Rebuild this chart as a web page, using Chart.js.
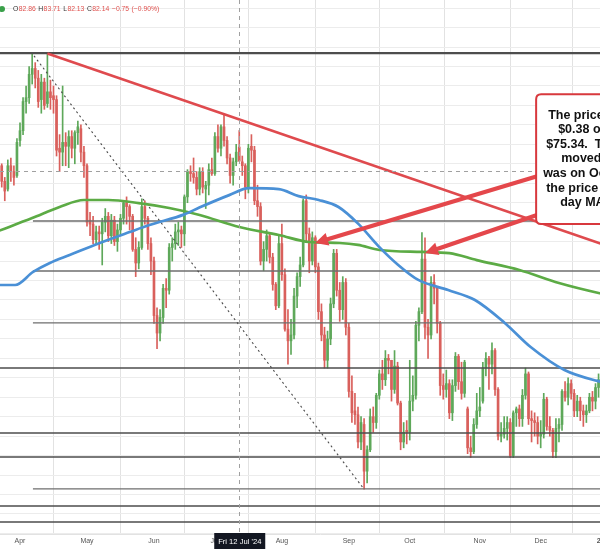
<!DOCTYPE html>
<html><head><meta charset="utf-8">
<script src="https://cdn.jsdelivr.net/npm/chart.js@4.4.1/dist/chart.umd.min.js"></script>
<style>
html,body{margin:0;padding:0;background:#fff;overflow:hidden;}
#wrap{position:relative;width:600px;height:549px;overflow:hidden;background:#fff;}
#c{position:absolute;left:0;top:0;}
</style></head><body>
<div id="wrap"><canvas id="c" width="700" height="549"></canvas></div>
<script>
// ---------- categories (trading sessions) ----------
const sessionMonths = ['2024-03','2024-04','2024-05','2024-06','2024-07','2024-08','2024-09','2024-10','2024-11','2024-12','2025-01'];
const sessionDays = [
  [21,22,25,26,27,28],
  [1,2,3,4,5,8,9,10,11,12,15,16,17,18,19,22,23,24,25,26,29,30],
  [1,2,3,6,7,8,9,10,13,14,15,16,17,20,21,22,23,24,28,29,30,31],
  [3,4,5,6,7,10,11,12,13,14,17,18,19,20,21,24,25,26,27,28],
  [1,2,3,5,8,9,10,11,12,15,16,17,18,19,22,23,24,25,26,29,30,31],
  [1,2,5,6,7,8,9,12,13,14,15,16,19,20,21,22,23,26,27,28,29,30],
  [3,4,5,6,9,10,11,12,13,16,17,18,19,20,23,24,25,26,27,30],
  [1,2,3,4,7,8,9,10,11,14,15,16,17,18,21,22,23,24,25,28,29,30,31],
  [1,4,5,6,7,8,11,12,13,14,15,18,19,20,21,22,25,26,27,29],
  [2,3,4,5,6,9,10,11,12,13,16,17,18,19,20,23,24,26,27,30,31],
  [2]
];
const tickLabels = ['Apr','May','Jun','Jul','Aug','Sep','Oct','Nov','Dec','2025'];
const priceGrid = [63,64,65,66,67,68,69,70,71,72,73,74,75,76,77,78,79,80,81,82,83,84,85,86,87,88,89,90];

// ---------- daily OHLC ----------
const opens = [
 81.9,81.1,80.7,81.9,81.6,81.4,
 83.2,83.7,85.2,85.4,86.6,86.9,86.4,85.3,86.2,85.1,85.7,85.5,85.3,82.8,82.6,83.1,82.9,83.4,82.8,83.6,83.8,82.6,
 81.9,79.1,78.9,78.1,78.5,78.4,79.0,79.3,78.3,79.1,78.0,78.6,79.2,80.0,79.8,79.3,77.6,76.9,77.7,79.8,79.2,77.9,
 77.0,74.2,73.3,74.1,75.6,75.5,77.7,77.9,78.5,78.6,78.4,80.3,81.6,81.5,81.3,80.7,81.6,80.7,80.9,81.7,
 81.5,83.4,82.8,83.9,83.2,82.3,81.4,82.1,82.86,82.1,81.9,80.8,82.9,82.7,80.1,79.8,77.0,77.6,78.3,77.2,75.8,74.7,
 77.9,76.3,73.5,72.9,73.2,75.2,76.2,76.8,80.1,78.4,77.0,78.2,76.7,74.4,73.2,71.9,73.0,74.8,77.4,75.5,74.5,75.9,
 73.6,70.3,69.3,69.1,67.7,68.6,66.2,67.3,69.0,68.7,70.1,71.2,70.9,72.0,71.9,70.4,71.6,69.7,67.7,68.3,
 68.2,69.8,70.1,73.7,74.4,77.1,73.6,73.2,75.9,75.6,73.8,70.6,70.4,70.7,69.2,70.6,72.1,70.8,70.2,69.4,67.4,67.2,68.6,
 69.3,69.8,71.5,72.0,71.7,72.4,70.4,68.0,68.1,68.4,68.7,67.0,69.2,69.4,68.9,70.1,71.2,68.9,68.8,68.7,
 68.0,68.1,69.9,68.5,68.3,67.2,68.4,68.6,70.3,70.0,70.7,70.2,69.3,69.8,69.3,69.1,69.3,70.0,69.8,70.5,70.9
];
const highs = [
 82.0,81.3,82.2,82.3,81.9,83.3,
 84.1,85.4,86.0,87.0,87.67,87.2,86.8,86.6,86.4,87.67,86.3,86.0,85.5,83.5,86.0,83.6,83.7,83.7,83.7,84.2,84.0,82.9,
 82.0,79.5,79.3,78.8,78.8,79.2,79.7,79.5,79.4,79.3,78.9,79.4,80.1,80.3,79.9,79.4,78.2,78.0,80.2,80.1,79.3,78.2,
 77.2,74.6,74.5,75.8,76.1,77.9,78.2,78.9,79.0,78.8,80.4,81.7,81.9,82.3,81.6,81.8,81.8,81.1,82.0,82.3,
 83.6,84.0,84.0,84.5,83.4,82.5,82.3,83.0,83.71,82.4,82.0,83.0,83.5,82.9,80.9,80.0,78.0,78.6,78.4,77.4,75.9,78.3,
 78.9,76.6,74.5,74.0,75.6,76.4,77.2,80.2,80.4,78.7,78.5,78.3,76.9,74.8,73.6,73.4,75.1,77.6,77.6,75.9,76.2,76.1,
 73.8,71.1,70.2,69.5,69.0,68.9,67.5,69.4,69.5,70.2,71.4,71.9,72.4,72.2,71.9,72.4,71.8,69.8,68.7,68.8,
 71.9,71.1,73.9,74.6,78.46,78.2,74.0,76.2,76.3,75.7,73.9,71.2,71.4,70.9,70.9,72.3,72.2,71.8,71.9,69.5,68.0,68.9,70.2,
 70.5,71.8,72.3,72.1,72.8,72.5,70.5,68.7,69.0,69.0,68.9,69.3,69.5,69.6,70.4,71.5,71.3,69.3,69.2,69.0,
 68.8,70.2,70.0,69.0,68.4,68.9,68.9,70.4,70.8,71.0,70.9,70.4,70.1,70.0,69.6,69.6,70.2,70.3,70.7,71.2,71.9
];
const lows = [
 80.8,80.1,80.6,81.1,80.9,81.3,
 82.9,83.5,84.6,85.1,86.1,85.9,84.9,84.6,84.8,84.9,84.8,84.6,82.4,81.6,81.9,81.9,81.8,82.3,82.0,83.0,82.1,81.3,
 78.8,78.3,77.9,77.9,77.6,76.8,78.5,78.0,77.9,77.8,77.5,78.3,78.9,78.9,78.6,77.5,76.2,76.6,77.6,78.9,77.6,76.3,
 73.8,72.5,72.9,73.8,74.6,75.3,77.0,77.6,77.8,77.7,77.8,80.0,81.1,81.0,80.4,80.4,80.5,79.7,80.4,81.4,
 81.4,82.6,82.4,82.9,82.0,81.0,80.9,81.9,82.13,81.4,80.2,80.5,82.1,79.9,79.3,76.8,76.5,77.0,76.9,75.5,74.5,74.6,
 76.0,73.4,71.7,72.2,73.0,74.6,75.7,76.7,78.0,76.4,76.8,76.4,74.0,72.9,71.5,71.5,72.7,74.6,75.2,73.9,74.0,73.2,
 70.0,68.7,68.6,67.4,67.3,65.27,65.6,67.2,68.2,68.4,69.9,70.4,70.6,71.2,69.8,70.2,69.6,67.3,67.4,67.6,
 67.8,69.3,69.9,72.9,74.3,73.0,72.0,73.0,74.8,73.3,70.1,69.9,70.0,68.9,68.8,70.3,70.4,69.9,70.0,67.1,66.9,67.1,68.4,
 69.0,69.7,71.1,70.4,71.2,70.1,67.8,67.7,67.9,67.8,66.9,66.9,68.5,68.5,68.5,69.9,68.6,67.7,68.0,67.6,
 67.4,67.9,68.3,68.0,66.9,66.9,67.7,68.3,69.8,69.6,69.9,69.0,69.0,68.8,68.5,68.7,69.2,69.3,69.4,70.0,70.6
];
const closes = [
 81.1,80.6,81.9,81.6,81.3,83.1,
 83.7,85.2,85.4,86.6,86.9,86.4,85.2,86.2,85.0,85.7,85.4,85.3,82.7,82.6,83.1,82.9,83.4,82.8,83.6,83.9,82.6,81.9,
 79.0,78.9,78.1,78.5,78.4,79.0,79.3,78.3,79.1,78.0,78.6,79.2,80.0,79.8,79.3,77.6,76.9,77.7,79.8,79.2,77.9,77.0,
 74.2,73.3,74.1,75.6,75.5,77.7,77.9,78.5,78.6,78.4,80.3,81.6,81.5,81.3,80.7,81.6,80.8,80.9,81.7,81.5,
 83.4,82.8,83.9,83.2,82.3,81.4,82.1,82.6,82.14,81.9,80.8,82.8,82.7,80.1,79.8,77.0,77.6,78.3,77.2,75.8,74.7,77.9,
 76.3,73.5,72.9,73.2,75.2,76.2,76.8,80.1,78.4,77.0,78.2,76.7,74.4,73.2,71.9,73.0,74.8,77.4,75.5,74.5,75.9,73.6,
 70.3,69.2,69.1,67.7,68.7,66.2,67.3,69.0,68.7,70.1,71.2,70.9,72.0,71.9,70.4,71.6,69.7,67.7,68.2,68.2,
 69.8,70.1,73.7,74.4,77.1,73.6,73.2,75.9,75.6,73.8,70.6,70.4,70.7,69.2,70.6,72.1,70.8,70.2,71.8,67.4,67.2,68.6,69.3,
 69.5,71.5,72.0,71.7,72.4,70.4,68.0,68.1,68.4,68.7,67.0,69.2,69.4,68.9,70.1,71.2,68.9,68.8,68.7,68.0,
 68.1,69.9,68.5,68.3,67.2,68.4,68.6,70.3,70.0,70.7,70.2,69.3,69.8,69.3,69.1,69.3,70.0,69.8,70.5,70.9,71.6
];

// ---------- moving averages ----------
const ma100Idx = [-1,4.4,10.3,15.8,22.3,32.2,42,48.5,60,64.9,74.7,81.2,91,97.5,104.1,110.6,117.2,123.7,130.2,136.8,146.6,155.4,165.2,173.7,184.8,195.6,200];
const ma100Val = [75.77,75.77,76.44,76.90,77.31,77.93,78.49,78.85,79.40,79.75,80.39,80.75,80.70,80.34,80.14,79.78,78.90,77.77,76.80,76.03,75.51,75.00,73.82,72.58,71.40,70.84,70.70];
const ma200Idx = [-1,10,19,27,35,45,55,65,78,91,101,111,117,124,138,147,156,170,183,196,200];
const ma200Val = [78.55,79.21,79.78,80.14,80.14,79.98,79.73,79.37,78.75,78.34,77.98,77.93,77.83,77.57,77.47,77.41,77.05,76.54,75.87,75.36,75.24];

// ---------- drawn levels / trend lines ----------
const levelPrices = [87.69,79.06,76.49,73.82,71.50,68.16,66.93,65.29,64.41,63.59];
const levelStarts = [-1,10.25,10.25,10.25,-1,-1,-1,10.25,-1,-1];
const trendIdx = [15,215];
const trendVal = [87.67,76.91];
const diagIdx = [10.6,119];
const diagVal = [87.55,65.27];

// crosshair + header values
const crossIdx = 78, crossPrice = 81.63;
const crossLabel = "Fri 12 Jul '24";
const headerLetters = ['O','H','L','C'];
const headerVals = ['82.86','83.71','82.13','82.14','\u22120.75','(\u22120.90%)'];

// annotation (data anchored)
const boxLeftIdx = 175.5, boxTopVal = 85.58, boxBottomVal = 78.90;
const boxLines = ['The price is up','$0.38 or 0.51% at','$75.34.  The price','moved above the','was on Oct 7 when','the price moved above the 200','day MA'];
const arrows = [
  {fromIdx:176.1, fromVal:81.37, toIdx:102.9, toVal:77.93},
  {fromIdx:175.8, fromVal:79.37, toIdx:139.0, toVal:77.41}
];

// ---------- build ----------
const dates = sessionMonths.flatMap((m,k)=>sessionDays[k].map(d=>m+'-'+String(d).padStart(2,'0')));
const monthTicks = [];
for (let i=1;i<dates.length;i++) if (dates[i].slice(0,7)!==dates[i-1].slice(0,7)) monthTicks.push(i);

const UP = '#5ea85a', DOWN = '#d9605c';
const idxs = closes.map((_,i)=>i);
const candleColors = idxs.map(i => closes[i] >= opens[i] ? UP : DOWN);
const wickData = idxs.map(i => ({x:i, y:[lows[i], highs[i]]}));
const bodyData = idxs.map(i => ({x:i, y:[opens[i], closes[i]]}));

const lineDs = (data, color, width, order, extra) => Object.assign({
  type:'line', data, borderColor:color, borderWidth:width, pointRadius:0, fill:false, order
}, extra||{});

const datasets = [];
datasets.push(lineDs(trendIdx.map((v,i)=>({x:v,y:trendVal[i]})), '#df4a4e', 2.6, 0));
datasets.push(lineDs(ma100Idx.map((v,i)=>({x:v,y:ma100Val[i]})), '#4a90d6', 2.7, 1, {cubicInterpolationMode:'monotone'}));
datasets.push(lineDs(ma200Idx.map((v,i)=>({x:v,y:ma200Val[i]})), '#5cab45', 2.7, 1, {cubicInterpolationMode:'monotone'}));
datasets.push(lineDs(diagIdx.map((v,i)=>({x:v,y:diagVal[i]})), '#4a4a4a', 1.1, 2, {borderDash:[2,3]}));
levelPrices.forEach((p,k)=>{
  const heavy = (k===0 || k===4 || k===5 || k===6 || k===8 || k===9);
  datasets.push(lineDs([{x:levelStarts[k],y:p},{x:215,y:p}], heavy ? '#4d4d4d' : '#6e6e6e', k===0 ? 2.2 : (heavy ? 1.6 : 1.3), 2));
});
datasets.push({type:'bar', data:bodyData, backgroundColor:candleColors, barThickness:2, grouped:false, minBarLength:1, borderWidth:0, order:3});
datasets.push({type:'bar', data:wickData, backgroundColor:candleColors, barThickness:1, grouped:false, borderWidth:0, order:4});

function roundRect(ctx,x,y,w,h,r){
  ctx.beginPath();
  ctx.moveTo(x+r,y); ctx.lineTo(x+w-r,y); ctx.quadraticCurveTo(x+w,y,x+w,y+r);
  ctx.lineTo(x+w,y+h-r); ctx.quadraticCurveTo(x+w,y+h,x+w-r,y+h);
  ctx.lineTo(x+r,y+h); ctx.quadraticCurveTo(x,y+h,x,y+h-r);
  ctx.lineTo(x,y+r); ctx.quadraticCurveTo(x,y,x+r,y); ctx.closePath();
}

const overlay = {
  id:'overlay',
  afterDatasetsDraw(chart){
    const {ctx, chartArea:a, scales:{x,y}} = chart;
    ctx.save();
    // crosshair
    ctx.strokeStyle='#a0a0a0'; ctx.lineWidth=1; ctx.setLineDash([4,4]);
    const cx = Math.round(x.getPixelForValue(crossIdx))+0.5;
    ctx.beginPath(); ctx.moveTo(cx,a.top); ctx.lineTo(cx,a.bottom); ctx.stroke();
    const cy = Math.round(y.getPixelForValue(crossPrice))+0.5;
    ctx.beginPath(); ctx.moveTo(a.left,cy); ctx.lineTo(a.right,cy); ctx.stroke();
    ctx.setLineDash([]);
    // arrows
    ctx.strokeStyle='#e4474b'; ctx.fillStyle='#e4474b'; ctx.lineWidth=4.2; ctx.lineCap='round';
    arrows.forEach(ar=>{
      const sx=x.getPixelForValue(ar.fromIdx), sy=y.getPixelForValue(ar.fromVal);
      const tx=x.getPixelForValue(ar.toIdx), ty=y.getPixelForValue(ar.toVal);
      const dx=tx-sx, dy=ty-sy, len=Math.hypot(dx,dy), ux=dx/len, uy=dy/len;
      const L=13, W=6.5;
      ctx.beginPath(); ctx.moveTo(sx,sy); ctx.lineTo(tx-ux*L*0.8, ty-uy*L*0.8); ctx.stroke();
      ctx.beginPath();
      ctx.moveTo(tx,ty);
      ctx.lineTo(tx-ux*L-uy*W, ty-uy*L+ux*W);
      ctx.lineTo(tx-ux*L+uy*W, ty-uy*L-ux*W);
      ctx.closePath(); ctx.fill();
    });
    // text box
    const bx=x.getPixelForValue(boxLeftIdx), by=y.getPixelForValue(boxTopVal), bb=y.getPixelForValue(boxBottomVal);
    roundRect(ctx,bx,by,200,bb-by,5);
    ctx.fillStyle='#ffffff'; ctx.fill();
    ctx.lineWidth=2; ctx.strokeStyle='#d8383d'; ctx.stroke();
    ctx.fillStyle='#111'; ctx.font='bold 12.5px "Liberation Sans", Arial, sans-serif';
    ctx.textBaseline='middle'; ctx.textAlign='left';
    const offs=[12,22,10,25,7,10,24];
    boxLines.forEach((t,i)=>{ ctx.fillText(t, bx+offs[i], by+21+i*14.6); });
    ctx.restore();
  },
  afterDraw(chart){
    const {ctx, chartArea:a, scales:{x}} = chart;
    ctx.save();
    // header
    ctx.fillStyle='#3aa04a';
    ctx.beginPath(); ctx.arc(2,9,3,0,Math.PI*2); ctx.fill();
    ctx.font='6.8px "Liberation Sans", Arial, sans-serif'; ctx.textBaseline='middle'; ctx.textAlign='left';
    let hx = 13;
    headerLetters.forEach((l,i)=>{
      ctx.fillStyle='#333'; ctx.fillText(l,hx,9); hx += ctx.measureText(l).width + 0.4;
      ctx.fillStyle='#e0524f'; ctx.fillText(headerVals[i],hx,9); hx += ctx.measureText(headerVals[i]).width + 2.6;
    });
    ctx.fillStyle='#e0524f';
    ctx.fillText(headerVals[4],hx,9); hx += ctx.measureText(headerVals[4]).width + 2.4;
    ctx.fillText(headerVals[5],hx,9);
    // date label
    const cx=x.getPixelForValue(crossIdx);
    ctx.fillStyle='#131722';
    ctx.fillRect(cx-25,a.bottom-1,51,549-a.bottom+1);
    ctx.fillStyle='#fff'; ctx.font='7.6px "Liberation Sans", Arial, sans-serif'; ctx.textAlign='center';
    ctx.fillText(crossLabel,cx+0.5,a.bottom+7.5);
    ctx.restore();
  }
};

new Chart(document.getElementById('c'), {
  type:'bar',
  data:{datasets},
  options:{
    responsive:false, animation:false, devicePixelRatio:1,
    layout:{padding:0},
    plugins:{legend:{display:false}, tooltip:{enabled:false}},
    scales:{
      x:{type:'linear', min:-0.568, max:209.61, offset:false,
         afterBuildTicks:s=>{ s.ticks = monthTicks.map(v=>({value:v})); },
         afterFit:s=>{ s.height = 15; },
         ticks:{autoSkip:false, maxRotation:0, padding:3, color:'#555',
                font:c=>({size:7, weight:(c.index===tickLabels.length-1)?'bold':'normal', family:'"Liberation Sans", Arial, sans-serif'}),
                callback:(v,i)=>tickLabels[i]},
         grid:{color:'#e2e2e2', drawTicks:false},
         border:{display:true, color:'#e2e2e2'}},
      y:{type:'linear', position:'right', min:62.97, max:90.42,
         afterBuildTicks:s=>{ s.ticks = priceGrid.map(v=>({value:v})); },
         afterFit:s=>{ s.width = 60; },
         ticks:{display:false},
         grid:{color:'#ececec', drawTicks:false},
         border:{display:false}}
    }
  },
  plugins:[overlay]
});
</script></body></html>
